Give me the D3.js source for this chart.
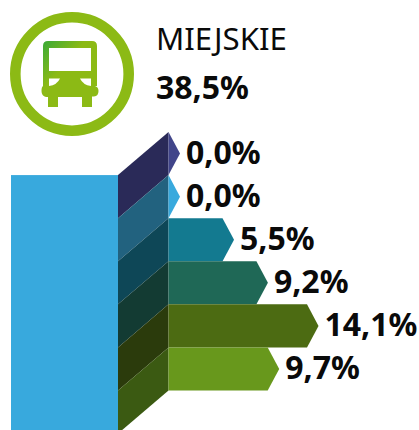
<!DOCTYPE html>
<html><head><meta charset="utf-8">
<script src="https://cdn.jsdelivr.net/npm/d3@7"></script>
<style>html,body{margin:0;padding:0;background:#fff}svg{display:block}text{font-family:"Noto Sans",sans-serif;fill:#0a0a0a}</style>
</head><body><svg id="c" width="419" height="430"></svg>
<script>
const title = "MIEJSKIE";
const total = "38,5%";
const categories = ["a","b","c","d","e","f"];
// bar lengths as drawn in the picture, in percent units (the source art is not exactly to scale)
const values = [0, 0, 5.5, 8.95, 14.1, 10.1];
const labels = ["0,0%","0,0%","5,5%","9,2%","14,1%","9,7%"];
const barColors = ["#41458a","#38a9dd","#137a90","#1f6856","#4c6b12","#68981c"];
const foldColors = ["#2a2a58","#22627f","#0e4757","#133b33","#2b3b0c","#3b5a12"];

const svg = d3.select("#c");
const y = d3.scaleBand().domain(categories).range([132, 390.5]);
const x = d3.scaleLinear().domain([0, 14.1]).range([168.5, 307]);
const foldLeft = 118, tip = 11.5, h = y.bandwidth();

svg.append("rect").attr("x",11).attr("y",y("a")+h).attr("width",foldLeft-11).attr("height",430-y("a")-h).attr("fill","#38a9dd");

const rows = svg.selectAll("g.row").data(categories).join("g").attr("class","row");
rows.append("path").attr("fill",(d,i)=>foldColors[i]).attr("d",d=>{
  const t=y(d);
  return `M${x(0)},${t}L${x(0)},${t+h}L${foldLeft},${t+2*h}L${foldLeft},${t+h}Z`;
});
rows.append("path").attr("fill",(d,i)=>barColors[i]).attr("d",(d,i)=>{
  const t=y(d), s=x(values[i]);
  return `M${x(0)},${t}L${s},${t}L${s+tip},${t+h/2}L${s},${t+h}L${x(0)},${t+h}Z`;
});
rows.append("text").attr("x",(d,i)=>x(values[i])+tip+6).attr("y",d=>y(d)+h/2+10)
  .attr("font-size",32).attr("font-weight",700).text((d,i)=>labels[i]);

svg.append("text").attr("x",156).attr("y",50).attr("font-size",31.2).text(title);
svg.append("text").attr("x",156).attr("y",98.5).attr("font-size",32).attr("font-weight",700).text(total);

// bus icon
const defs = svg.append("defs");
const g = defs.append("linearGradient").attr("id","bus").attr("x1","0").attr("y1","0").attr("x2","0.7").attr("y2","0.7");
g.append("stop").attr("offset","0").attr("stop-color","#36a938");
g.append("stop").attr("offset","0.55").attr("stop-color","#8cba15");
svg.append("circle").attr("cx",72).attr("cy",74).attr("r",56.7).attr("fill","none").attr("stroke","#8cba15").attr("stroke-width",10.6);
const bus = svg.append("g");
bus.append("path").attr("fill","url(#bus)").attr("d","M48,41H92Q97,41 97,46V86H95Q98.5,87 98.5,91Q98.5,96 94,96.5H92V107H82V97H58V107H48V97H46Q41.5,96 41.5,91Q41.5,87 43,86V46Q43,41 48,41Z");
bus.append("path").attr("fill","#fff").attr("d","M49,48H91V71H49Z");
bus.append("path").attr("fill","#fff").attr("d","M49,78.5H60Q57,85 49,86Z");
bus.append("path").attr("fill","#fff").attr("d","M91,78.5H80Q83,85 91,86Z");
</script></body></html>
